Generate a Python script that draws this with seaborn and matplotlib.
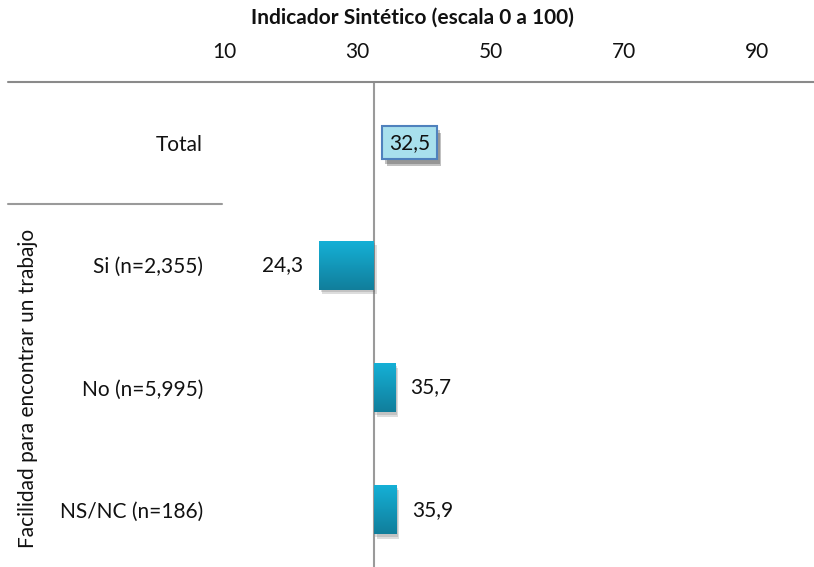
import matplotlib
matplotlib.use("Agg")
import matplotlib.pyplot as plt
import matplotlib.patheffects as pe
from matplotlib.colors import LinearSegmentedColormap
from matplotlib.lines import Line2D
from matplotlib.transforms import blended_transform_factory
import numpy as np
import pandas as pd
import seaborn as sns

# ---- data ----
categories = ["Total", "Si (n=2,355)", "No (n=5,995)", "NS/NC (n=186)"]
values = [32.5, 24.3, 35.7, 35.9]
reference = 32.5
tick_values = [10, 30, 50, 70, 90]
x_title = "Indicador Sintético (escala 0 a 100)"
group_label = "Facilidad para encontrar un trabajo"

sns.set_theme(style="white")
plt.rcParams["font.family"] = ["Lato", "DejaVu Sans"]

df = pd.DataFrame({"cat": categories, "val": values})
df["diff"] = df["val"] - reference

W, H = 814, 567
FS = 15
fig = plt.figure(figsize=(W / 100, H / 100), dpi=100)
ax_top = 81.5
ax = fig.add_axes([224 / W, 0, (W - 224) / W, (H - ax_top) / H])

sns.barplot(data=df, x="diff", y="cat", orient="h", width=0.4,
            color="#14a9cf", saturation=1, linewidth=0, ax=ax, zorder=2)

# gradient fill + soft shadow for bars
grad = np.linspace(0, 1, 256).reshape(-1, 1)
cmap = LinearSegmentedColormap.from_list("g", ["#15b0d6", "#117e9b"])
for p in list(ax.patches):
    x0, w = p.get_x(), p.get_width()
    y0, h = p.get_y(), p.get_height()
    if abs(w) < 1e-9:
        p.set_visible(False)
        continue
    p.set_path_effects([pe.SimplePatchShadow(offset=(2, -3.5), shadow_rgbFace="#666666", alpha=0.22),
                        pe.SimplePatchShadow(offset=(1, -2), shadow_rgbFace="#666666", alpha=0.22),
                        pe.Normal()])
    im = ax.imshow(grad, cmap=cmap, extent=[min(x0, x0 + w), max(x0, x0 + w), y0 + h, y0],
                   aspect="auto", origin="upper", zorder=3)
    im.set_clip_path(p)

ax.set_xlim(10 - reference, 98.5 - reference)
ax.set_ylim(3.467, -0.5)

ax.axvline(0, color="#9a9a9a", lw=1.5, zorder=1)

# ticks on top
ax.xaxis.tick_top()
ax.set_xticks([t - reference for t in tick_values])
ax.set_xticklabels([str(t) for t in tick_values])
ax.tick_params(axis="x", length=0, pad=14, labelsize=FS, colors="#111111")
ax.set_xlabel("")
ax.tick_params(axis="y", length=0, pad=15, labelsize=FS, colors="#111111")
ax.set_ylabel("")
for s in ax.spines.values():
    s.set_visible(False)

fig.text(412 / W, 1 - 18 / H, x_title, ha="center", va="center", fontsize=FS,
         fontweight="bold", color="#111111")

# value labels
for i, (v, d) in enumerate(zip(df["val"], df["diff"])):
    lab = f"{v:.1f}".replace(".", ",")
    if i == 0:
        t = ax.annotate(lab, xy=(d, i), xytext=(10.8, 0), textcoords="offset points",
                        ha="left", va="center", fontsize=FS, color="#111111", zorder=5,
                        bbox=dict(boxstyle="square,pad=0.32", fc="#a8e0ed", ec="#4f81bd", lw=1.5))
        t.get_bbox_patch().set_path_effects(
            [pe.SimplePatchShadow(offset=(3, -5), shadow_rgbFace="#333333", alpha=0.3),
             pe.SimplePatchShadow(offset=(2, -3), shadow_rgbFace="#333333", alpha=0.3),
             pe.Normal()])
    elif d < 0:
        ax.annotate(lab, xy=(d, i), xytext=(-11.5, 0), textcoords="offset points",
                    ha="right", va="center", fontsize=FS, color="#111111")
    else:
        ax.annotate(lab, xy=(d, i), xytext=(11, 0), textcoords="offset points",
                    ha="left", va="center", fontsize=FS, color="#111111")

# decorative lines
fig.add_artist(Line2D([8 / W, 1], [(H - ax_top) / H] * 2, color="#8a8a8a", lw=1.5))
tr = blended_transform_factory(fig.transFigure, ax.transData)
fig.add_artist(Line2D([8 / W, 222 / W], [0.5, 0.5], transform=tr, color="#9a9a9a", lw=1.5))

fig.text(28 / W, 1 - 388 / H, group_label, rotation=90, va="center", ha="center",
         fontsize=FS, color="#111111")

fig.savefig("out.png", dpi=100)
